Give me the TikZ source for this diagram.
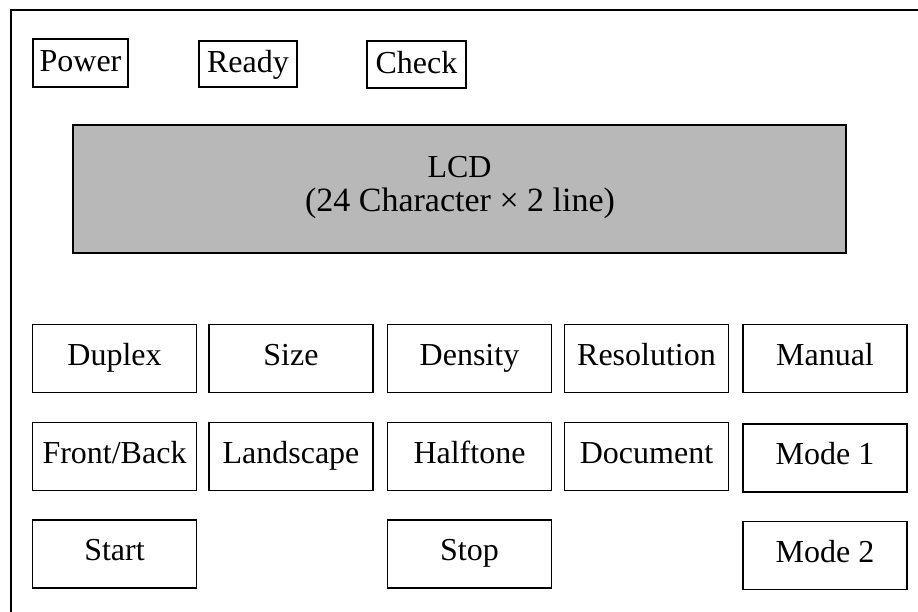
\documentclass[tikz,border=0pt]{standalone}
\usepackage{fontspec}
\setmainfont{Liberation Serif}
\begin{document}
\begin{tikzpicture}[x=1pt,y=-1pt,
  txt/.style={font=\fontsize{32}{36}\selectfont},
  lamp/.style={draw,line width=1.1pt,inner sep=0pt,txt,text height=21pt,text depth=3pt},
  key/.style={draw,line width=1.1pt,inner sep=0pt,minimum width=164pt,minimum height=68pt,txt,text height=21pt,text depth=8pt},
  lcdbox/.style={draw,line width=1.3pt,fill=black!28,inner sep=0pt,minimum width=773pt,minimum height=128pt},
  lcdtext/.style={inner sep=0pt,anchor=base,font=\fontsize{32}{36}\selectfont}]
\useasboundingbox (0,0) rectangle (918,612);
% frame (only top and left edges visible)
\coordinate (ftr) at (918,10);
\coordinate (ftl) at (11,10);
\coordinate (fbl) at (11,612);
\draw[line width=1.4pt] (ftr) -- (ftl) -- (fbl);
% indicator lamps
\node[lamp,minimum width=95pt,minimum height=48pt] (power) at (80.5,63) {Power};
\node[lamp,minimum width=98pt,minimum height=46pt] (ready) at (248,64) {Ready};
\node[lamp,minimum width=99pt,minimum height=47pt] (check) at (416.5,64.5) {Check};
% LCD
\node[lcdbox] (lcd) at (459.5,189) {};
\node[lcdtext] (lcdA) at (459.5,178) {LCD};
\node[lcdtext,font=\fontsize{34}{38}\selectfont] (lcdB) at (460,212) {(24 Character × 2 line)};
% keys row 1
\node[key] (duplex) at (114.5,358.5) {Duplex};
\node[key] (size) at (291,358.5) {Size};
\node[key] (density) at (469.5,358.5) {Density};
\node[key] (resolution) at (646.5,358.5) {Resolution};
\node[key] (manual) at (825,358.5) {Manual};
% row 2
\node[key] (frontback) at (114.5,456.5) {Front/Back};
\node[key] (landscape) at (291,456.5) {Landscape};
\node[key] (halftone) at (469.5,456.5) {Halftone};
\node[key] (document) at (646.5,456.5) {Document};
\node[key] (mode1) at (825,458) {Mode 1};
% row 3
\node[key] (start) at (114.5,554) {Start};
\node[key] (stop) at (469.5,554) {Stop};
\node[key] (mode2) at (825,555.5) {Mode 2};
\end{tikzpicture}
\end{document}
